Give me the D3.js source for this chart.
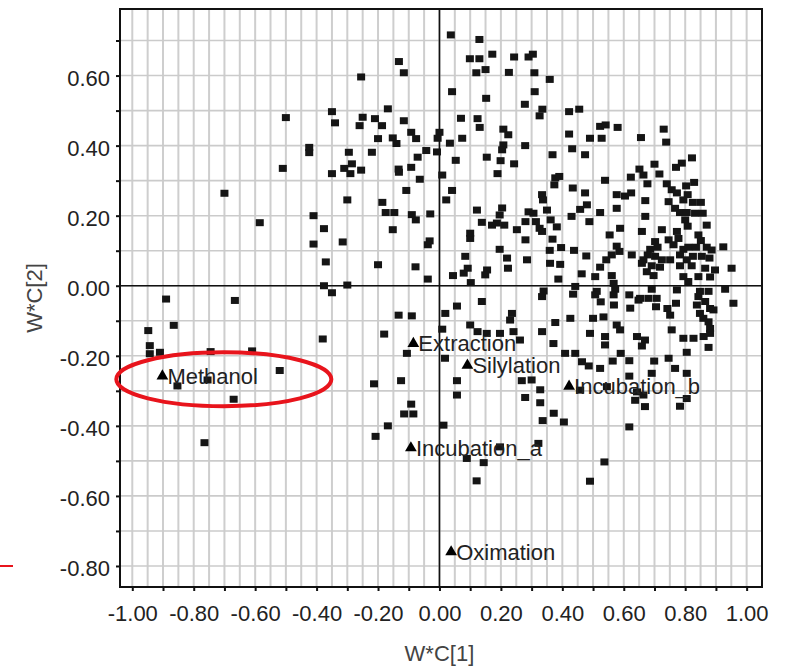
<!DOCTYPE html>
<html>
<head>
<meta charset="utf-8">
<script src="https://cdn.jsdelivr.net/npm/d3@7"></script>
<style>
  body { margin: 0; background: #fff; }
  text { font-family: "Liberation Sans", Arial, sans-serif; }
</style>
</head>
<body>
<div id="loadingPlot"></div>
<script>
// loadings of the variables (squares), w*c[1] and w*c[2]
const variablePoints = [
  [-0.255,0.596],[-0.35,0.497],[-0.34,0.465],[-0.50,0.48],[-0.25,0.481],[-0.26,0.457],[-0.21,0.477],[-0.187,0.457],[-0.168,0.505],[-0.20,0.42],
  [-0.424,0.395],[-0.424,0.38],[-0.295,0.381],[-0.22,0.381],[-0.51,0.335],[-0.31,0.335],[-0.285,0.348],[-0.29,0.32],[-0.35,0.32],[-0.255,0.33],
  [-0.70,0.264],[-0.30,0.245],[-0.186,0.238],[-0.175,0.209],[-0.41,0.20],[-0.585,0.18],[-0.376,0.163],[-0.41,0.119],[-0.315,0.125],[-0.37,0.068],
  [-0.20,0.06],[-0.376,0.0],[-0.35,-0.02],[-0.30,0.002],
  [-0.89,-0.038],[-0.666,-0.042],[-0.948,-0.128],[-0.865,-0.113],[-0.943,-0.171],[-0.943,-0.194],[-0.91,-0.19],[-0.745,-0.188],[-0.61,-0.186],[-0.52,-0.242],
  [-0.755,-0.269],[-0.853,-0.286],[-0.67,-0.324],[-0.765,-0.448],[-0.38,-0.152],[-0.18,-0.138],[-0.213,-0.28],[-0.168,-0.40],[-0.208,-0.43],
  [0.037,0.716],[0.13,0.703],[-0.132,0.64],[-0.116,0.608],[0.099,0.648],[0.13,0.648],[0.172,0.661],[0.12,0.608],[0.15,0.617],[0.243,0.653],
  [0.29,0.653],[0.304,0.661],[0.226,0.609],[0.309,0.608],[0.359,0.589],[0.041,0.554],[0.31,0.554],[0.152,0.535],[0.278,0.518],[0.335,0.504],
  [0.326,0.485],[0.422,0.497],[0.455,0.504],[0.07,0.478],[0.124,0.477],[0.131,0.452],[-0.116,0.471],[-0.092,0.438],[-0.152,0.422],[-0.14,0.406],
  [-0.076,0.42],[0.0,0.438],[-0.006,0.421],[0.074,0.421],[0.034,0.407],[0.208,0.447],[0.224,0.431],[0.208,0.402],[0.204,0.388],[0.279,0.40],
  [0.422,0.433],[0.432,0.391],[-0.043,0.386],[-0.008,0.382],[-0.071,0.367],[0.053,0.358],[0.154,0.367],[0.199,0.357],[0.243,0.348],[0.368,0.374],
  [-0.092,0.338],[-0.133,0.333],
  [0.523,0.455],[0.541,0.459],[0.58,0.452],[0.49,0.421],[0.528,0.421],[0.474,0.374],[0.656,0.423],[0.73,0.447],[0.738,0.41],[0.822,0.365],
  [0.789,0.35],[0.77,0.338],[0.70,0.347],[0.651,0.333],
  [-0.132,0.324],[-0.064,0.304],[0.009,0.316],[0.189,0.32],[-0.108,0.272],[0.041,0.272],[-0.147,0.209],[0.022,0.245],[0.122,0.216],[-0.09,0.203],
  [-0.077,0.188],[-0.03,0.205],[-0.152,0.16],[0.138,0.181],[0.204,0.222],[0.196,0.202],[0.187,0.179],[0.171,0.173],[0.211,0.173],[0.252,0.16],
  [0.28,0.183],[0.29,0.211],[0.306,0.207],[0.314,0.183],[0.326,0.164],[0.334,0.155],[0.334,0.26],[0.337,0.245],[0.35,0.216],[0.377,0.308],
  [0.374,0.288],[0.39,0.312],[0.434,0.279],[0.362,0.188],[0.382,0.168],[0.43,0.198],[0.10,0.135],[0.10,0.15],[0.28,0.131],[0.368,0.133],
  [-0.038,0.117],[-0.032,0.128],[0.196,0.104],[0.22,0.079],[0.084,0.084],[0.285,0.074],[0.359,0.101],[0.396,0.109],[0.438,0.101],[0.36,0.064],
  [0.393,0.061],[-0.078,0.054],[0.223,0.05],[0.092,0.05],[0.079,0.036],[0.044,0.029],[0.155,0.045],[0.149,0.031],[-0.038,0.019],[0.102,0.009],
  [0.387,0.019],[0.442,-0.002],[0.339,-0.015],[0.334,-0.031],
  [0.716,0.319],[0.664,0.316],[0.677,0.291],[0.623,0.31],[0.539,0.301],[0.474,0.265],[0.577,0.26],[0.604,0.256],[0.624,0.265],[0.74,0.291],
  [0.756,0.274],[0.773,0.265],[0.803,0.285],[0.829,0.295],[0.808,0.26],[0.794,0.245],[0.825,0.238],[0.851,0.238],[0.746,0.24],[0.67,0.243],
  [0.48,0.231],[0.458,0.218],[0.577,0.221],[0.523,0.209],[0.488,0.183],[0.67,0.198],[0.767,0.221],[0.783,0.209],[0.805,0.209],[0.832,0.207],
  [0.857,0.207],[0.80,0.188],[0.808,0.17],[0.87,0.173],[0.724,0.16],[0.659,0.155],[0.588,0.164],[0.554,0.145],[0.773,0.155],[0.746,0.131],
  [0.778,0.135],[0.843,0.145],[0.851,0.129],[0.702,0.126],[0.71,0.11],[0.686,0.104],[0.678,0.088],[0.762,0.117],[0.794,0.104],[0.81,0.11],
  [0.835,0.11],[0.87,0.11],[0.886,0.102],[0.924,0.111],[0.577,0.113],[0.586,0.098],[0.478,0.085],[0.561,0.088],[0.543,0.074],[0.626,0.088],
  [0.664,0.074],[0.702,0.084],[0.724,0.074],[0.751,0.074],[0.783,0.088],[0.805,0.074],[0.825,0.084],[0.854,0.084],[0.879,0.079],[0.659,0.064],
  [0.691,0.057],[0.718,0.053],[0.783,0.057],[0.821,0.057],[0.865,0.05],[0.897,0.045],[0.951,0.05],[0.523,0.053],[0.463,0.034],[0.507,0.026],
  [0.561,0.029],[0.675,0.04],[0.697,0.029],[0.794,0.026],[0.843,0.026],[0.881,0.025],[0.81,0.012],[0.567,0.007],[0.773,-0.012],[0.848,-0.016],
  [0.876,-0.016],[0.691,-0.01],[0.512,-0.016],[0.572,-0.01],[0.93,-0.01],[0.567,-0.026],[0.653,-0.036],[0.843,-0.031],[0.507,-0.026],
  [0.435,-0.024],[0.525,-0.046],[0.568,-0.055],[0.618,-0.026],[0.648,-0.041],[0.68,-0.036],[0.707,-0.036],[0.742,-0.065],[0.77,-0.05],[0.751,-0.084],
  [0.838,-0.055],[0.865,-0.045],[0.881,-0.065],[0.892,-0.069],[0.848,-0.079],[0.876,-0.103],[0.881,-0.122],[0.957,-0.05],[0.334,-0.131],[0.377,-0.105],
  [0.426,-0.093],[0.49,-0.136],[0.534,-0.089],[0.577,-0.112],[0.588,-0.126],[0.643,-0.145],[0.756,-0.126],[0.794,-0.15],[0.827,-0.15],[0.86,-0.145],
  [0.881,-0.136],[0.236,-0.079],[0.23,-0.098],[0.138,-0.045],[0.057,-0.058],[0.019,-0.079],[0.009,-0.124],[0.10,-0.112],[0.124,-0.131],[0.154,-0.136],
  [0.241,-0.131],[-0.133,-0.084],[-0.09,-0.086],
  [0.197,-0.136],[0.262,-0.155],[0.371,-0.165],[-0.106,-0.193],[0.018,-0.207],[-0.125,-0.271],[0.057,-0.271],[0.057,-0.312],[0.268,-0.271],[0.30,-0.269],
  [0.328,-0.297],[0.279,-0.319],[0.328,-0.334],[0.336,-0.385],[0.372,-0.364],[-0.092,-0.338],[-0.115,-0.366],[-0.085,-0.366],[0.013,-0.398],[0.197,-0.46],
  [0.322,-0.45],[0.144,-0.505],[0.089,-0.493],[0.121,-0.557],
  [0.539,-0.169],[0.539,-0.145],[0.50,-0.093],[0.621,-0.064],[0.705,-0.06],[0.859,-0.093],[0.669,-0.155],[0.659,-0.172],[0.876,-0.176],[0.409,-0.193],
  [0.442,-0.193],[0.464,-0.217],[0.486,-0.229],[0.523,-0.236],[0.564,-0.215],[0.59,-0.193],[0.618,-0.214],[0.618,-0.258],[0.699,-0.215],[0.746,-0.207],
  [0.805,-0.19],[0.767,-0.236],[0.805,-0.25],[0.691,-0.25],[0.643,-0.303],[0.664,-0.312],[0.669,-0.345],[0.637,-0.327],[0.783,-0.344],[0.805,-0.322],
  [0.458,-0.298],[0.545,-0.288],[0.405,-0.389],[0.618,-0.403],[0.537,-0.503],[0.49,-0.558]
];

// process factors (triangles)
const factorNames = ["Methanol", "Extraction", "Silylation", "Incubation_b", "Incubation_a", "Oximation"];
const factorX = [-0.902, -0.085, 0.091, 0.422, -0.093, 0.038];
const factorY = [-0.258, -0.165, -0.227, -0.287, -0.463, -0.760];

// tick values and labels
const xTicks = d3.range(-10, 11).map(function(i) { return i / 10; });
const yTicks = d3.range(-8, 8).map(function(i) { return i / 10; });
const xGrid = d3.range(-20, 21).map(function(i) { return i / 20; });
const xTitle = "W*C[1]";
const yTitle = "W*C[2]";

// highlighted factor
const highlight = "Methanol";

let width = 787, height = 667;
let margin = {top: 9, right: 25, bottom: 80, left: 120};

const svg = d3.select("#loadingPlot")
              .append("svg")
                .attr("width", width)
                .attr("height", height);

let x = d3.scaleLinear()
            .domain([-1.04, 1.05])
            .range([margin.left, width - margin.right]);

let y = d3.scaleLinear()
            .domain([-0.86, 0.79])
            .range([height - margin.bottom, margin.top]);

// label only every 0.2, keep a plain hyphen as minus
const fmt = function(d) {
  let k = Math.round(d * 10);
  if (k % 2 !== 0) return "";
  return (k < 0 ? "-" : "") + Math.abs(d).toFixed(2);
};

// grid lines
svg.append("g")
    .selectAll("line")
    .data(xGrid)
    .enter()
    .append("line")
      .attr("x1", function(d) { return x(d); })
      .attr("x2", function(d) { return x(d); })
      .attr("y1", y.range()[0])
      .attr("y2", y.range()[1])
      .attr("stroke", "#cecece")
      .attr("stroke-width", 2);

svg.append("g")
    .selectAll("line")
    .data(yTicks)
    .enter()
    .append("line")
      .attr("x1", x.range()[0])
      .attr("x2", x.range()[1])
      .attr("y1", function(d) { return y(d); })
      .attr("y2", function(d) { return y(d); })
      .attr("stroke", "#cbcbcb")
      .attr("stroke-width", 1.6);

// zero lines
svg.append("line")
    .attr("x1", x(0)).attr("x2", x(0))
    .attr("y1", y.range()[0]).attr("y2", y.range()[1])
    .attr("stroke", "#111").attr("stroke-width", 1.6);

svg.append("line")
    .attr("x1", x.range()[0]).attr("x2", x.range()[1])
    .attr("y1", y(0)).attr("y2", y(0))
    .attr("stroke", "#111").attr("stroke-width", 1.6);

// axes
const xAxis = svg.append("g")
    .attr("transform", "translate(0," + y.range()[0] + ")")
    .call(d3.axisBottom(x).tickValues(xTicks).tickFormat(fmt).tickSize(4).tickPadding(14));

const yAxis = svg.append("g")
    .attr("transform", "translate(" + x.range()[0] + ",0)")
    .call(d3.axisLeft(y).tickValues(yTicks).tickFormat(fmt).tickSize(4).tickPadding(6));

[xAxis, yAxis].forEach(function(a) {
  a.select(".domain").remove();
  a.selectAll(".tick line").attr("stroke", "#111").attr("stroke-width", 2);
  a.selectAll(".tick text")
      .attr("fill", "#222")
      .style("font-size", "22px");
});
yAxis.selectAll(".tick text").attr("dy", "0.45em");

// frame
svg.append("rect")
    .attr("x", x.range()[0])
    .attr("y", y.range()[1])
    .attr("width", x.range()[1] - x.range()[0])
    .attr("height", y.range()[0] - y.range()[1])
    .attr("fill", "none")
    .attr("stroke", "#111")
    .attr("stroke-width", 2);

// squares for variables
svg.append("g")
    .selectAll("rect")
    .data(variablePoints)
    .enter()
    .append("rect")
      .attr("x", function(d) { return x(d[0]) - 4; })
      .attr("y", function(d) { return y(d[1]) - 3.5; })
      .attr("width", 8)
      .attr("height", 7)
      .attr("fill", "#151515");

// triangles and labels for factors
const factors = svg.append("g")
    .selectAll("g")
    .data(factorNames)
    .enter()
    .append("g")
      .attr("transform", function(d, i) { return "translate(" + x(factorX[i]) + "," + y(factorY[i]) + ")"; });

factors.append("path")
    .attr("d", d3.symbol(d3.symbolTriangle).size(60))
    .attr("fill", "#000");

factors.append("text")
    .attr("x", 5)
    .attr("dy", "0.36em")
    .attr("fill", "#222")
    .style("font-size", "22px")
    .text(function(d) { return d; });

// axis titles
svg.append("text")
    .attr("x", x(0))
    .attr("y", 661)
    .attr("text-anchor", "middle")
    .attr("fill", "#444")
    .style("font-size", "22px")
    .text(xTitle);

svg.append("text")
    .attr("transform", "translate(42," + y(-0.035) + ")rotate(-90)")
    .attr("text-anchor", "middle")
    .attr("fill", "#444")
    .style("font-size", "22px")
    .text(yTitle);

// red ellipse round the highlighted factor
let hi = factorNames.indexOf(highlight);
svg.append("ellipse")
    .attr("cx", x(factorX[hi] + 0.20))
    .attr("cy", y(factorY[hi] - 0.009))
    .attr("rx", x(0.35) - x(0))
    .attr("ry", y(0) - y(0.077))
    .attr("fill", "none")
    .attr("stroke", "#e8141c")
    .attr("stroke-width", 4);

// red marker line at the left edge
svg.append("line")
    .attr("x1", 0).attr("x2", 13)
    .attr("y1", y(-0.8)).attr("y2", y(-0.8))
    .attr("stroke", "#e8141c")
    .attr("stroke-width", 2);
</script>
</body>
</html>
